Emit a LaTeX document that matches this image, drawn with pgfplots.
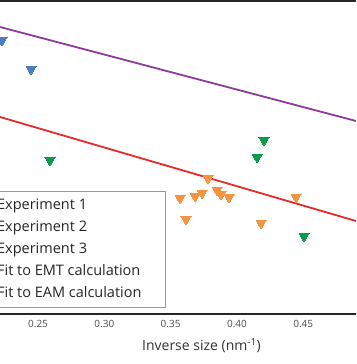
\documentclass[border=0pt]{standalone}
\usepackage{fontspec}
\setmainfont{Open Sans}
\usepackage{pgfplots}
\pgfplotsset{compat=1.18}
\definecolor{cblue}{HTML}{4E7DBF}
\definecolor{corange}{HTML}{F39443}
\definecolor{cgreen}{HTML}{0B9B4B}
\definecolor{cpurple}{HTML}{8E3A9A}
\definecolor{cred}{HTML}{E52A2A}
\begin{document}
\begin{tikzpicture}
\useasboundingbox (0,0) rectangle (356pt,364pt);
\clip (0,0) rectangle (356pt,364pt);
\begin{axis}[
  at={(0pt,50pt)}, anchor=south west,
  scale only axis, width=356pt, height=313pt,
  xmin=0.2213, xmax=0.4898, ymin=0, ymax=313,
  hide y axis,
  axis line style={draw=black!85, line width=1.5pt},
  major tick length=0pt,
  xtick={0.25,0.30,0.35,0.40,0.45},
  xticklabel style={font=\fontsize{10}{12}\selectfont, text=black!70, yshift=-3pt,
    /pgf/number format/fixed, /pgf/number format/fixed zerofill, /pgf/number format/precision=2},
  /pgf/number format/assume math mode=true,
  xlabel={Inverse size (nm\textsuperscript{-1})},
  xlabel style={font=\fontsize{14}{16}\selectfont, text=black!80, at={(axis description cs:0.566,-0.118)}, anchor=base},
  legend cell align=left,
  legend style={at={(axis description cs:0.4663,0.393)}, anchor=north east,
    draw=black!40, line width=1pt, font=\fontsize{14.5}{17}\selectfont, text=black!85,
    inner xsep=24pt, inner ysep=7pt, row sep=8pt,
    nodes={inner sep=0pt, text height=11pt, text depth=3pt}},
  mark size=5.8pt,
]
\addplot[only marks, color=cblue, mark=triangle*, mark options={rotate=180, fill=cblue, draw=cblue, line width=0pt}] coordinates {
(0.2228,274) (0.2447,245)
};
\addlegendentry{Experiment 1}
\addplot[only marks, color=corange, mark=triangle*, mark options={rotate=180, fill=corange, draw=corange, line width=0pt}] coordinates {
(0.3571,116) (0.3616,95) (0.3684,118) (0.3737,121) (0.3782,136) (0.3850,124) (0.3880,120) (0.3940,117) (0.4182,91) (0.4446,117)
};
\addlegendentry{Experiment 2}
\addplot[only marks, color=cgreen, mark=triangle*, mark options={rotate=180, fill=cgreen, draw=cgreen, line width=0pt}] coordinates {
(0.2590,154) (0.4204,174) (0.4152,157) (0.4506,78)
};
\addlegendentry{Experiment 3}
\addplot[cpurple, line width=1.8pt, mark=none] coordinates {(0.2213,287) (0.4898,193)};
\addlegendentry{Fit to EMT calculation}
\addplot[cred, line width=1.8pt, mark=none] coordinates {(0.2213,197) (0.4898,93)};
\addlegendentry{Fit to EAM calculation}
\end{axis}
\end{tikzpicture}
\end{document}
